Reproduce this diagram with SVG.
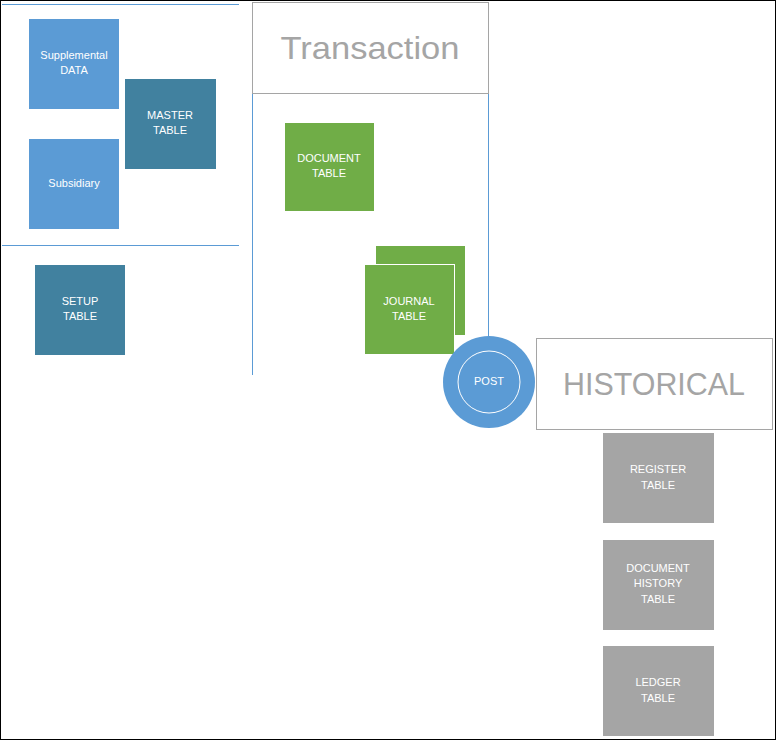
<svg xmlns="http://www.w3.org/2000/svg" width="776" height="740" viewBox="0 0 776 740">
<style>
.lbl{font-family:"Liberation Sans",Arial,sans-serif;font-size:11px;fill:#ffffff;text-anchor:middle}
.big{font-family:"Liberation Sans",Arial,sans-serif;fill:#A5A5A5;text-anchor:middle}
.blue{fill:#5B9BD5}
.teal{fill:#41819F}
.green{fill:#70AD47;stroke:#ffffff;stroke-width:1}
.gray{fill:#A5A5A5}
.sep{stroke:#5B9BD5;stroke-width:1;fill:none}
.hdr{fill:#ffffff;stroke:#A5A5A5;stroke-width:1}
</style>
<rect x="0" y="0" width="776" height="740" fill="#ffffff"/>
<g id="connectors">
<line class="sep" x1="2" y1="4.5" x2="239" y2="4.5"/>
<line class="sep" x1="2" y1="245.5" x2="239" y2="245.5"/>
<line class="sep" x1="252.5" y1="93" x2="252.5" y2="375"/>
<line class="sep" x1="488.5" y1="93" x2="488.5" y2="340"/>
</g>
<g id="supplemental"><rect class="blue" x="29" y="19" width="90" height="90"/><text class="lbl" x="74" y="59">Supplemental</text><text class="lbl" x="74" y="74">DATA</text></g>
<g id="master"><rect class="teal" x="125" y="79" width="91" height="90"/><text class="lbl" x="170" y="119">MASTER</text><text class="lbl" x="170" y="134">TABLE</text></g>
<g id="subsidiary"><rect class="blue" x="29" y="139" width="90" height="90"/><text class="lbl" x="74" y="187">Subsidiary</text></g>
<g id="setup"><rect class="teal" x="35" y="265" width="90" height="90"/><text class="lbl" x="80" y="305">SETUP</text><text class="lbl" x="80" y="320">TABLE</text></g>
<g id="transaction"><rect class="hdr" x="252.5" y="2.5" width="236" height="91"/><text class="big" x="370" y="59" font-size="32" textLength="179" lengthAdjust="spacingAndGlyphs">Transaction</text></g>
<g id="document"><rect class="green" x="284.5" y="122.5" width="90" height="89"/><text class="lbl" x="329" y="162">DOCUMENT</text><text class="lbl" x="329" y="177">TABLE</text></g>
<g id="journal"><rect class="green" x="375.5" y="245.5" width="90" height="90"/><rect class="green" x="364.5" y="264.5" width="90" height="90"/><text class="lbl" x="409" y="305">JOURNAL</text><text class="lbl" x="409" y="320">TABLE</text></g>
<g id="post"><circle cx="489" cy="382" r="46" fill="#5B9BD5"/><circle cx="489" cy="382" r="31" fill="none" stroke="#ffffff" stroke-width="1"/><text class="lbl" x="489" y="385">POST</text></g>
<g id="historical"><rect class="hdr" x="536.5" y="338.5" width="236" height="91"/><text class="big" x="654" y="395" font-size="32" textLength="182" lengthAdjust="spacingAndGlyphs">HISTORICAL</text></g>
<g id="register"><rect class="gray" x="603" y="433" width="111" height="90"/><text class="lbl" x="658" y="473">REGISTER</text><text class="lbl" x="658" y="489">TABLE</text></g>
<g id="dochistory"><rect class="gray" x="603" y="540" width="111" height="90"/><text class="lbl" x="658" y="572">DOCUMENT</text><text class="lbl" x="658" y="587">HISTORY</text><text class="lbl" x="658" y="603">TABLE</text></g>
<g id="ledger"><rect class="gray" x="603" y="646" width="111" height="90"/><text class="lbl" x="658" y="686">LEDGER</text><text class="lbl" x="658" y="702">TABLE</text></g>
<rect x="0.5" y="0.5" width="775" height="739" fill="none" stroke="#000000" stroke-width="1"/>
</svg>
